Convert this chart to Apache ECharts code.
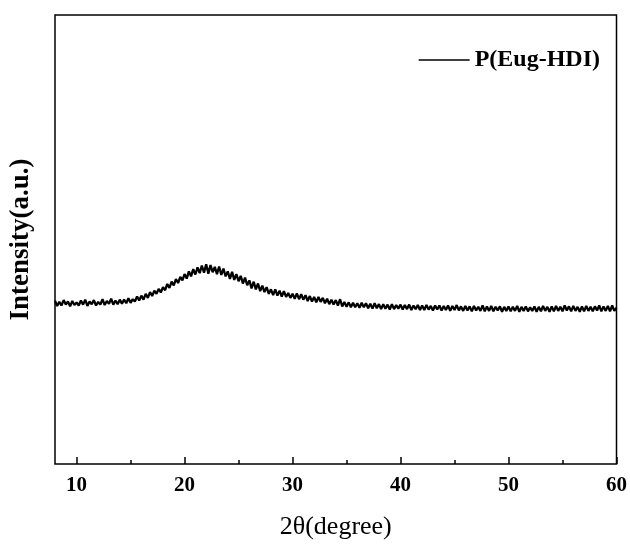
<!DOCTYPE html>
<html>
<head>
<meta charset="utf-8">
<script src="https://cdn.jsdelivr.net/npm/echarts@6/dist/echarts.min.js"></script>
<style>
  html, body { margin: 0; padding: 0; background: #fff; }
  #chart { width: 630px; height: 545px; }
</style>
</head>
<body>
<div id="chart"></div>
<script>
// XRD pattern, 2θ from 8 to 60 in steps of 0.2
const thetaStart = 8
const thetaStep = 0.2
const intensity = [
  36.4, 35.2, 36.1, 35.3, 36.5, 35.5, 36.2, 35.1, 36.3, 35.4, 36.0,
  35.3, 36.4, 35.5, 36.6, 35.2, 36.2, 35.6, 36.5, 35.3, 36.1,
  35.5, 36.7, 35.4, 36.3, 35.7, 36.8, 35.5, 36.4, 35.6, 36.6,
  35.7, 36.6, 35.8, 36.9, 35.9, 36.7, 36.2, 37.3, 36.4, 37.5,
  36.6, 37.9, 37.0, 38.3, 37.4, 38.6, 37.9, 39.0, 38.2, 39.4,
  38.7, 40.1, 39.2, 40.6, 39.8, 41.2, 40.3, 41.7, 40.9, 42.3,
  41.3, 42.9, 41.8, 43.4, 42.2, 43.8, 42.5, 44.2, 42.6, 44.5,
  42.4, 44.3, 42.7, 43.9, 42.3, 44.0, 42.1, 43.5, 41.8, 42.9,
  41.2, 42.8, 41.0, 42.3, 40.7, 41.9, 40.2, 41.5, 39.8, 40.9,
  39.1, 40.6, 38.9, 40.2, 38.5, 39.7, 38.3, 39.4, 37.9, 38.9,
  37.6, 38.9, 37.5, 38.6, 37.3, 38.5, 37.2, 38.1, 37.0, 37.9,
  36.8, 38.0, 36.7, 37.8, 36.6, 37.6, 36.3, 37.4, 36.2, 37.2,
  36.0, 37.2, 36.1, 37.0, 35.8, 36.8, 35.6, 36.6, 35.5, 36.5,
  35.3, 36.7, 35.1, 36.1, 35.0, 36.0, 34.9, 35.9, 34.9, 35.8,
  34.8, 35.9, 34.9, 35.8, 34.7, 35.7, 34.6, 35.8, 34.7, 35.6,
  34.5, 35.6, 34.6, 35.5, 34.4, 35.6, 34.5, 35.4, 34.6, 35.5,
  34.4, 35.4, 34.5, 35.5, 34.3, 35.3, 34.5, 35.4, 34.3, 35.3,
  34.3, 35.4, 34.4, 35.2, 34.2, 35.3, 34.4, 35.3, 34.2, 35.2,
  34.3, 35.3, 34.1, 35.2, 34.3, 35.4, 34.2, 35.1, 34.1, 35.2,
  34.2, 35.1, 34.0, 35.2, 34.2, 35.0, 34.1, 35.3, 34.0, 35.1,
  34.1, 35.2, 34.0, 35.0, 34.2, 35.1, 33.9, 35.0, 34.1, 35.1,
  34.0, 35.0, 34.1, 35.2, 33.9, 35.0, 34.1, 35.1, 34.0, 34.9,
  34.1, 35.1, 33.9, 35.0, 34.0, 35.2, 34.1, 35.0, 33.9, 35.1,
  34.0, 35.2, 34.1, 35.0, 34.0, 35.3, 34.2, 35.1, 34.0, 35.2,
  34.1, 35.0, 33.9, 35.1, 34.0, 35.2, 34.1, 35.0, 34.0, 35.1,
  34.2, 35.3, 34.0, 35.1, 34.1, 35.2, 34.0, 35.3, 34.1, 34.8
]
const majorTicks = [10, 20, 30, 40, 50, 60]
const minorTicks = [15, 25, 35, 45, 55]
const seriesName = 'P(Eug-HDI)'

const points = intensity.map((v, i) => [+(thetaStart + i * thetaStep).toFixed(1), v])

const serif = '"Liberation Serif", "DejaVu Serif", serif'
const chart = echarts.init(document.getElementById('chart'))

chart.setOption({
  animation: false,
  backgroundColor: '#fff',
  grid: {
    left: 53, right: 13, top: 15, bottom: 78,
    show: true,
    borderColor: '#000',
    borderWidth: 1.5
  },
  legend: {
    data: [seriesName],
    right: 25,
    top: 43,
    icon: 'rect',
    itemWidth: 51,
    itemHeight: 1.5,
    itemGap: 8,
    textStyle: {
      fontFamily: serif,
      fontWeight: 'bold',
      fontSize: 24,
      color: '#000'
    }
  },
  xAxis: [{
    type: 'value',
    min: 8,
    max: 60,
    position: 'bottom',
    name: '2θ(degree)',
    nameLocation: 'middle',
    nameGap: 50,
    nameTextStyle: { fontFamily: serif, fontSize: 26, color: '#000' },
    splitLine: { show: false },
    axisLine: { show: false },
    axisTick: {
      inside: true,
      length: 7,
      customValues: majorTicks,
      lineStyle: { color: '#000', width: 1.5 }
    },
    axisLabel: {
      customValues: majorTicks,
      margin: 11,
      fontFamily: serif,
      fontWeight: 'bold',
      fontSize: 21,
      color: '#000'
    }
  }, {
    type: 'value',
    min: 8,
    max: 60,
    position: 'bottom',
    splitLine: { show: false },
    axisLine: { show: false },
    axisLabel: { show: false },
    axisTick: {
      inside: true,
      length: 4,
      customValues: minorTicks,
      lineStyle: { color: '#000', width: 1.5 }
    }
  }],
  yAxis: {
    type: 'value',
    min: 0,
    max: 100,
    name: 'Intensity(a.u.)',
    nameLocation: 'middle',
    nameGap: 20,
    nameTextStyle: { fontFamily: serif, fontWeight: 'bold', fontSize: 27, color: '#000' },
    splitLine: { show: false },
    axisLine: { show: false },
    axisTick: { show: false },
    axisLabel: { show: false }
  },
  series: [{
    name: seriesName,
    type: 'line',
    data: points,
    showSymbol: false,
    symbol: 'none',
    color: '#000',
    lineStyle: { color: '#000', width: 2.3 }
  }]
})
</script>
</body>
</html>
